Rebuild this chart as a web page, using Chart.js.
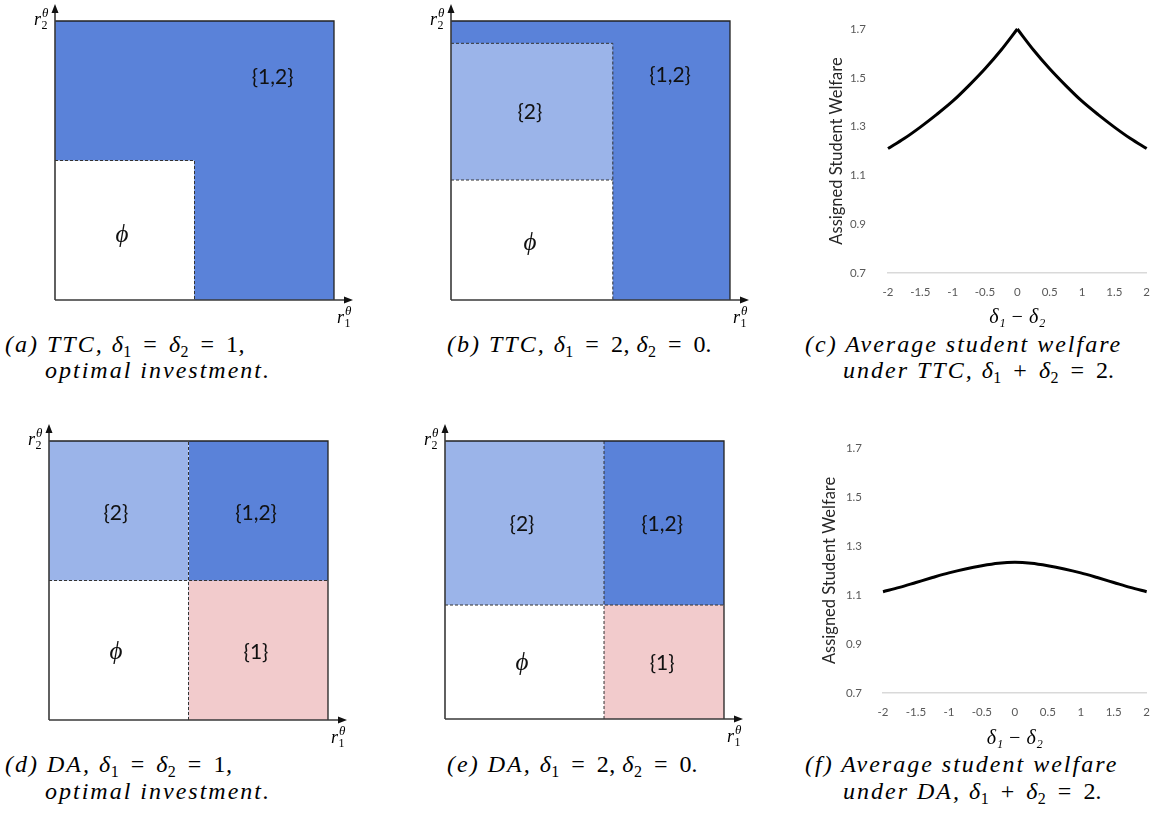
<!DOCTYPE html>
<html>
<head>
<meta charset="utf-8">
<script src="https://cdn.jsdelivr.net/npm/chart.js@4.4.0/dist/chart.umd.min.js"></script>
<style>
body{margin:0;background:#fff;width:1162px;height:830px;position:relative;overflow:hidden;}
canvas{position:absolute;}
.cap{position:absolute;font-family:"Liberation Serif","DejaVu Serif",serif;font-style:italic;font-size:24px;line-height:26px;letter-spacing:2px;color:#000;white-space:nowrap;}
.cap .m{font-style:normal;letter-spacing:0.5px;}
.cap .m i{font-style:italic;}
.cap .op{margin:0 5px;}
.cap sub{font-size:16px;vertical-align:-5px;line-height:0;font-style:normal;}
</style>
</head>
<body>
<canvas id="chartA" width="380" height="330" style="left:0;top:0"></canvas>
<canvas id="chartB" width="390" height="330" style="left:380px;top:0"></canvas>
<canvas id="chartC" width="382" height="330" style="left:780px;top:0"></canvas>
<canvas id="chartD" width="380" height="330" style="left:0;top:420px"></canvas>
<canvas id="chartE" width="370" height="330" style="left:400px;top:420px"></canvas>
<canvas id="chartF" width="382" height="330" style="left:780px;top:420px"></canvas>

<div class="cap" style="left:5px;top:331px">(a) TTC, <span class="m"><i>δ</i><sub>1</sub> <span class="op">=</span> <i>δ</i><sub>2</sub> <span class="op">=</span> 1</span>,</div>
<div class="cap" style="left:45px;top:357px">optimal investment.</div>
<div class="cap" style="left:447px;top:331px">(b) TTC, <span class="m"><i>δ</i><sub>1</sub> <span class="op">=</span> 2, <i>δ</i><sub>2</sub> <span class="op">=</span> 0</span>.</div>
<div class="cap" style="left:805px;top:331px">(c) Average student welfare</div>
<div class="cap" style="left:843px;top:357px">under TTC, <span class="m"><i>δ</i><sub>1</sub> <span class="op">+</span> <i>δ</i><sub>2</sub> <span class="op">=</span> 2</span>.</div>
<div class="cap" style="left:5px;top:751px">(d) DA, <span class="m"><i>δ</i><sub>1</sub> <span class="op">=</span> <i>δ</i><sub>2</sub> <span class="op">=</span> 1</span>,</div>
<div class="cap" style="left:45px;top:778px">optimal investment.</div>
<div class="cap" style="left:447px;top:751px">(e) DA, <span class="m"><i>δ</i><sub>1</sub> <span class="op">=</span> 2, <i>δ</i><sub>2</sub> <span class="op">=</span> 0</span>.</div>
<div class="cap" style="left:805px;top:751px">(f) Average student welfare</div>
<div class="cap" style="left:843px;top:778px">under DA, <span class="m"><i>δ</i><sub>1</sub> <span class="op">+</span> <i>δ</i><sub>2</sub> <span class="op">=</span> 2</span>.</div>

<script>
// cut points of the rank square (0..1)
var ttcEqualCut = [0.5, 0.5];          // (a) r1 cut, r2 cut
var ttcSkewCut = [0.58, 0.43, 0.92];   // (b) r1 cut, lower r2 cut, upper r2 cut
var daEqualCut = [0.5, 0.5];           // (d)
var daSkewCut = [0.57, 0.41];          // (e)

// region labels: text, r1, r2
var aLabels = [["{1,2}", 0.78, 0.80], ["ϕ", 0.24, 0.23]];
var bLabels = [["{1,2}", 0.785, 0.805], ["{2}", 0.283, 0.674], ["ϕ", 0.283, 0.204]];
var dLabels = [["{2}", 0.24, 0.742], ["{1,2}", 0.742, 0.742], ["ϕ", 0.24, 0.244], ["{1}", 0.742, 0.244]];
var eLabels = [["{2}", 0.276, 0.699], ["{1,2}", 0.778, 0.699], ["ϕ", 0.276, 0.2], ["{1}", 0.778, 0.2]];

// welfare curves
var deltaDiff = [-2, -1.75, -1.5, -1.25, -1, -0.75, -0.5, -0.25, 0, 0.25, 0.5, 0.75, 1, 1.25, 1.5, 1.75, 2];
var ttcWelfare = [1.21, 1.251, 1.298, 1.349, 1.404, 1.468, 1.537, 1.614, 1.70, 1.614, 1.537, 1.468, 1.404, 1.349, 1.298, 1.251, 1.21];
var daWelfare = [1.113, 1.131, 1.151, 1.171, 1.19, 1.206, 1.219, 1.229, 1.233, 1.229, 1.219, 1.206, 1.19, 1.171, 1.151, 1.131, 1.113];
var xTicks = [-2, -1.5, -1, -0.5, 0, 0.5, 1, 1.5, 2];
var yTicks = [0.7, 0.9, 1.1, 1.3, 1.5, 1.7];

var darkBlue = "#5a82d9";
var lightBlue = "#9bb4e9";
var pink = "#f2cbcc";

function pts(xs, ys) {
    var out = [];
    for (var i in xs) {
        out.push({x: xs[i], y: ys[i]});
    }
    return out;
}
// area under a flat top edge, filled down to r2 = 0
function region(x0, x1, top, color) {
    return {data: pts([x0, x1], [top, top]), fill: "origin", backgroundColor: color,
        borderWidth: 0, pointRadius: 0, clip: false};
}
function edge(xs, ys, dashed) {
    return {data: pts(xs, ys), fill: false, borderColor: dashed ? "#333" : "#222",
        borderWidth: dashed ? 1 : 1.3, borderDash: dashed ? [3, 2] : [], pointRadius: 0, clip: false};
}

// axes with arrows and r labels
var arrowAxes = {
    id: "arrowAxes",
    afterDraw: function (chart) {
        var ctx = chart.ctx, a = chart.chartArea;
        ctx.save();
        ctx.strokeStyle = "#3a3a3a";
        ctx.fillStyle = "#111";
        ctx.lineWidth = 1.6;
        ctx.beginPath();
        ctx.moveTo(a.left, a.bottom);
        ctx.lineTo(a.left, a.top - 10);
        ctx.moveTo(a.left, a.bottom);
        ctx.lineTo(a.right + 12, a.bottom);
        ctx.stroke();
        ctx.beginPath();
        ctx.moveTo(a.left, a.top - 17);
        ctx.lineTo(a.left - 3.5, a.top - 8);
        ctx.lineTo(a.left + 3.5, a.top - 8);
        ctx.closePath();
        ctx.moveTo(a.right + 19, a.bottom);
        ctx.lineTo(a.right + 10, a.bottom - 3.5);
        ctx.lineTo(a.right + 10, a.bottom + 3.5);
        ctx.closePath();
        ctx.fill();
        drawR(ctx, "2", a.left - 21, a.top + 4);
        drawR(ctx, "1", a.right + 3, a.bottom + 23);
        ctx.restore();
    }
};
function drawR(ctx, sub, x, y) {
    ctx.fillStyle = "#000";
    ctx.textBaseline = "alphabetic";
    ctx.textAlign = "left";
    ctx.font = "italic 18px 'Liberation Serif', 'DejaVu Serif', serif";
    ctx.fillText("r", x, y);
    ctx.font = "12px 'Liberation Serif', 'DejaVu Serif', serif";
    ctx.fillText(sub, x + 7.5, y + 4);
    ctx.font = "italic 13px 'Liberation Serif', 'DejaVu Serif', serif";
    ctx.fillText("θ", x + 8, y - 8);
}

var regionLabels = {
    id: "regionLabels",
    afterDatasetsDraw: function (chart, args, opts) {
        var ctx = chart.ctx;
        var sx = chart.scales.x, sy = chart.scales.y;
        ctx.save();
        ctx.fillStyle = "#111";
        ctx.textAlign = "center";
        ctx.textBaseline = "middle";
        (opts.items || []).forEach(function (it) {
            if (it[0] == "ϕ") {
                ctx.font = "italic 25px 'Liberation Serif', 'DejaVu Serif', serif";
            } else {
                ctx.font = "21px Lato, 'Open Sans', sans-serif";
            }
            ctx.fillText(it[0], sx.getPixelForValue(it[1]), sy.getPixelForValue(it[2]));
        });
        ctx.restore();
    }
};

function makeRegionChart(id, datasets, labels, pad) {
    return new Chart(document.getElementById(id).getContext("2d"), {
        type: "line",
        data: {datasets: datasets},
        options: {
            responsive: false,
            animation: false,
            layout: {padding: pad},
            plugins: {legend: {display: false}, tooltip: {enabled: false}, regionLabels: {items: labels}},
            scales: {
                x: {type: "linear", min: 0, max: 1, display: false},
                y: {type: "linear", min: 0, max: 1, display: false}
            }
        },
        plugins: [regionLabels, arrowAxes]
    });
}

//(a) TTC, equal
var c = ttcEqualCut;
makeRegionChart("chartA", [
    edge([0, 1, 1], [1, 1, 0], false),
    edge([0, c[0], c[0]], [c[1], c[1], 0], true),
    region(0, c[0], c[1], "#fff"),
    region(0, 1, 1, darkBlue)
], aLabels, {left: 55, top: 21, right: 46, bottom: 30});

//(b) TTC, skewed
c = ttcSkewCut;
makeRegionChart("chartB", [
    edge([0, 1, 1], [1, 1, 0], false),
    edge([0, c[0], c[0]], [c[2], c[2], 0], true),
    edge([0, c[0]], [c[1], c[1]], true),
    region(0, c[0], c[1], "#fff"),
    region(0, c[0], c[2], lightBlue),
    region(0, 1, 1, darkBlue)
], bLabels, {left: 71, top: 21, right: 40, bottom: 30});

//(d) DA, equal
c = daEqualCut;
makeRegionChart("chartD", [
    edge([0, 1, 1], [1, 1, 0], false),
    edge([c[0], c[0]], [0, 1], true),
    edge([0, 1], [c[1], c[1]], true),
    region(0, c[0], c[1], "#fff"),
    region(c[0], 1, c[1], pink),
    region(0, c[0], 1, lightBlue),
    region(c[0], 1, 1, darkBlue)
], dLabels, {left: 49, top: 21, right: 52, bottom: 30});

//(e) DA, skewed
c = daSkewCut;
makeRegionChart("chartE", [
    edge([0, 1, 1], [1, 1, 0], false),
    edge([c[0], c[0]], [0, 1], true),
    edge([0, 1], [c[1], c[1]], true),
    region(0, c[0], c[1], "#fff"),
    region(c[0], 1, c[1], pink),
    region(0, c[0], 1, lightBlue),
    region(c[0], 1, 1, darkBlue)
], eLabels, {left: 45, top: 21, right: 46, bottom: 31});

//(c),(f) welfare curves
function makeWelfareChart(id, datasets, pad, yWidth, yPad, xTitlePad) {
    return new Chart(document.getElementById(id).getContext("2d"), {
        type: "line",
        data: {datasets: datasets},
        options: {
            responsive: false,
            animation: false,
            layout: {padding: pad},
            plugins: {legend: {display: false}, tooltip: {enabled: false}},
            scales: {
                x: {
                    type: "linear", min: -2, max: 2,
                    afterBuildTicks: function (s) { s.ticks = xTicks.map(function (v) { return {value: v}; }); },
                    afterFit: function (s) { s.height = 57; },
                    grid: {display: false, drawTicks: false},
                    border: {display: true, color: "#d9d9d9", width: 1.5},
                    ticks: {padding: 12, color: "#595959", font: {family: "Lato", size: 11.5}, maxRotation: 0, autoSkip: false,
                        callback: function (v) { return String(v); }},
                    title: {display: true, text: "δ₁ − δ₂", color: "#000",
                        font: {family: "'Liberation Serif', 'DejaVu Serif', serif", size: 20, style: "italic", lineHeight: 1.2},
                        padding: {top: 0, bottom: xTitlePad}}
                },
                y: {
                    type: "linear", min: 0.7, max: 1.7,
                    afterBuildTicks: function (s) { s.ticks = yTicks.map(function (v) { return {value: v}; }); },
                    afterFit: function (s) { s.width = yWidth; },
                    grid: {display: false, drawTicks: false},
                    border: {display: false},
                    ticks: {padding: yPad, color: "#595959", font: {family: "Lato", size: 11.5},
                        callback: function (v) { return v.toFixed(1); }},
                    title: {display: true, text: "Assigned Student Welfare", color: "#262626",
                        font: {family: "Lato", size: 16.5, lineHeight: 1.2}, padding: {top: 3, bottom: 0}}
                }
            }
        }
    });
}
function curve(xs, ys) {
    return {data: pts(xs, ys), borderColor: "#000", borderWidth: 3, pointRadius: 0, fill: false,
        cubicInterpolationMode: "monotone", clip: false};
}

// TTC has a kink at 0, so each side is its own piece
makeWelfareChart("chartC", [
    curve(deltaDiff.slice(0, 9), ttcWelfare.slice(0, 9)),
    curve(deltaDiff.slice(8), ttcWelfare.slice(8))
], {left: 44, top: 29, right: 9, bottom: 0}, 64, 22, 0);

makeWelfareChart("chartF", [
    curve(deltaDiff, daWelfare)
], {left: 37, top: 27, right: 15, bottom: 0}, 66, 21, -1);
</script>
</body>
</html>
